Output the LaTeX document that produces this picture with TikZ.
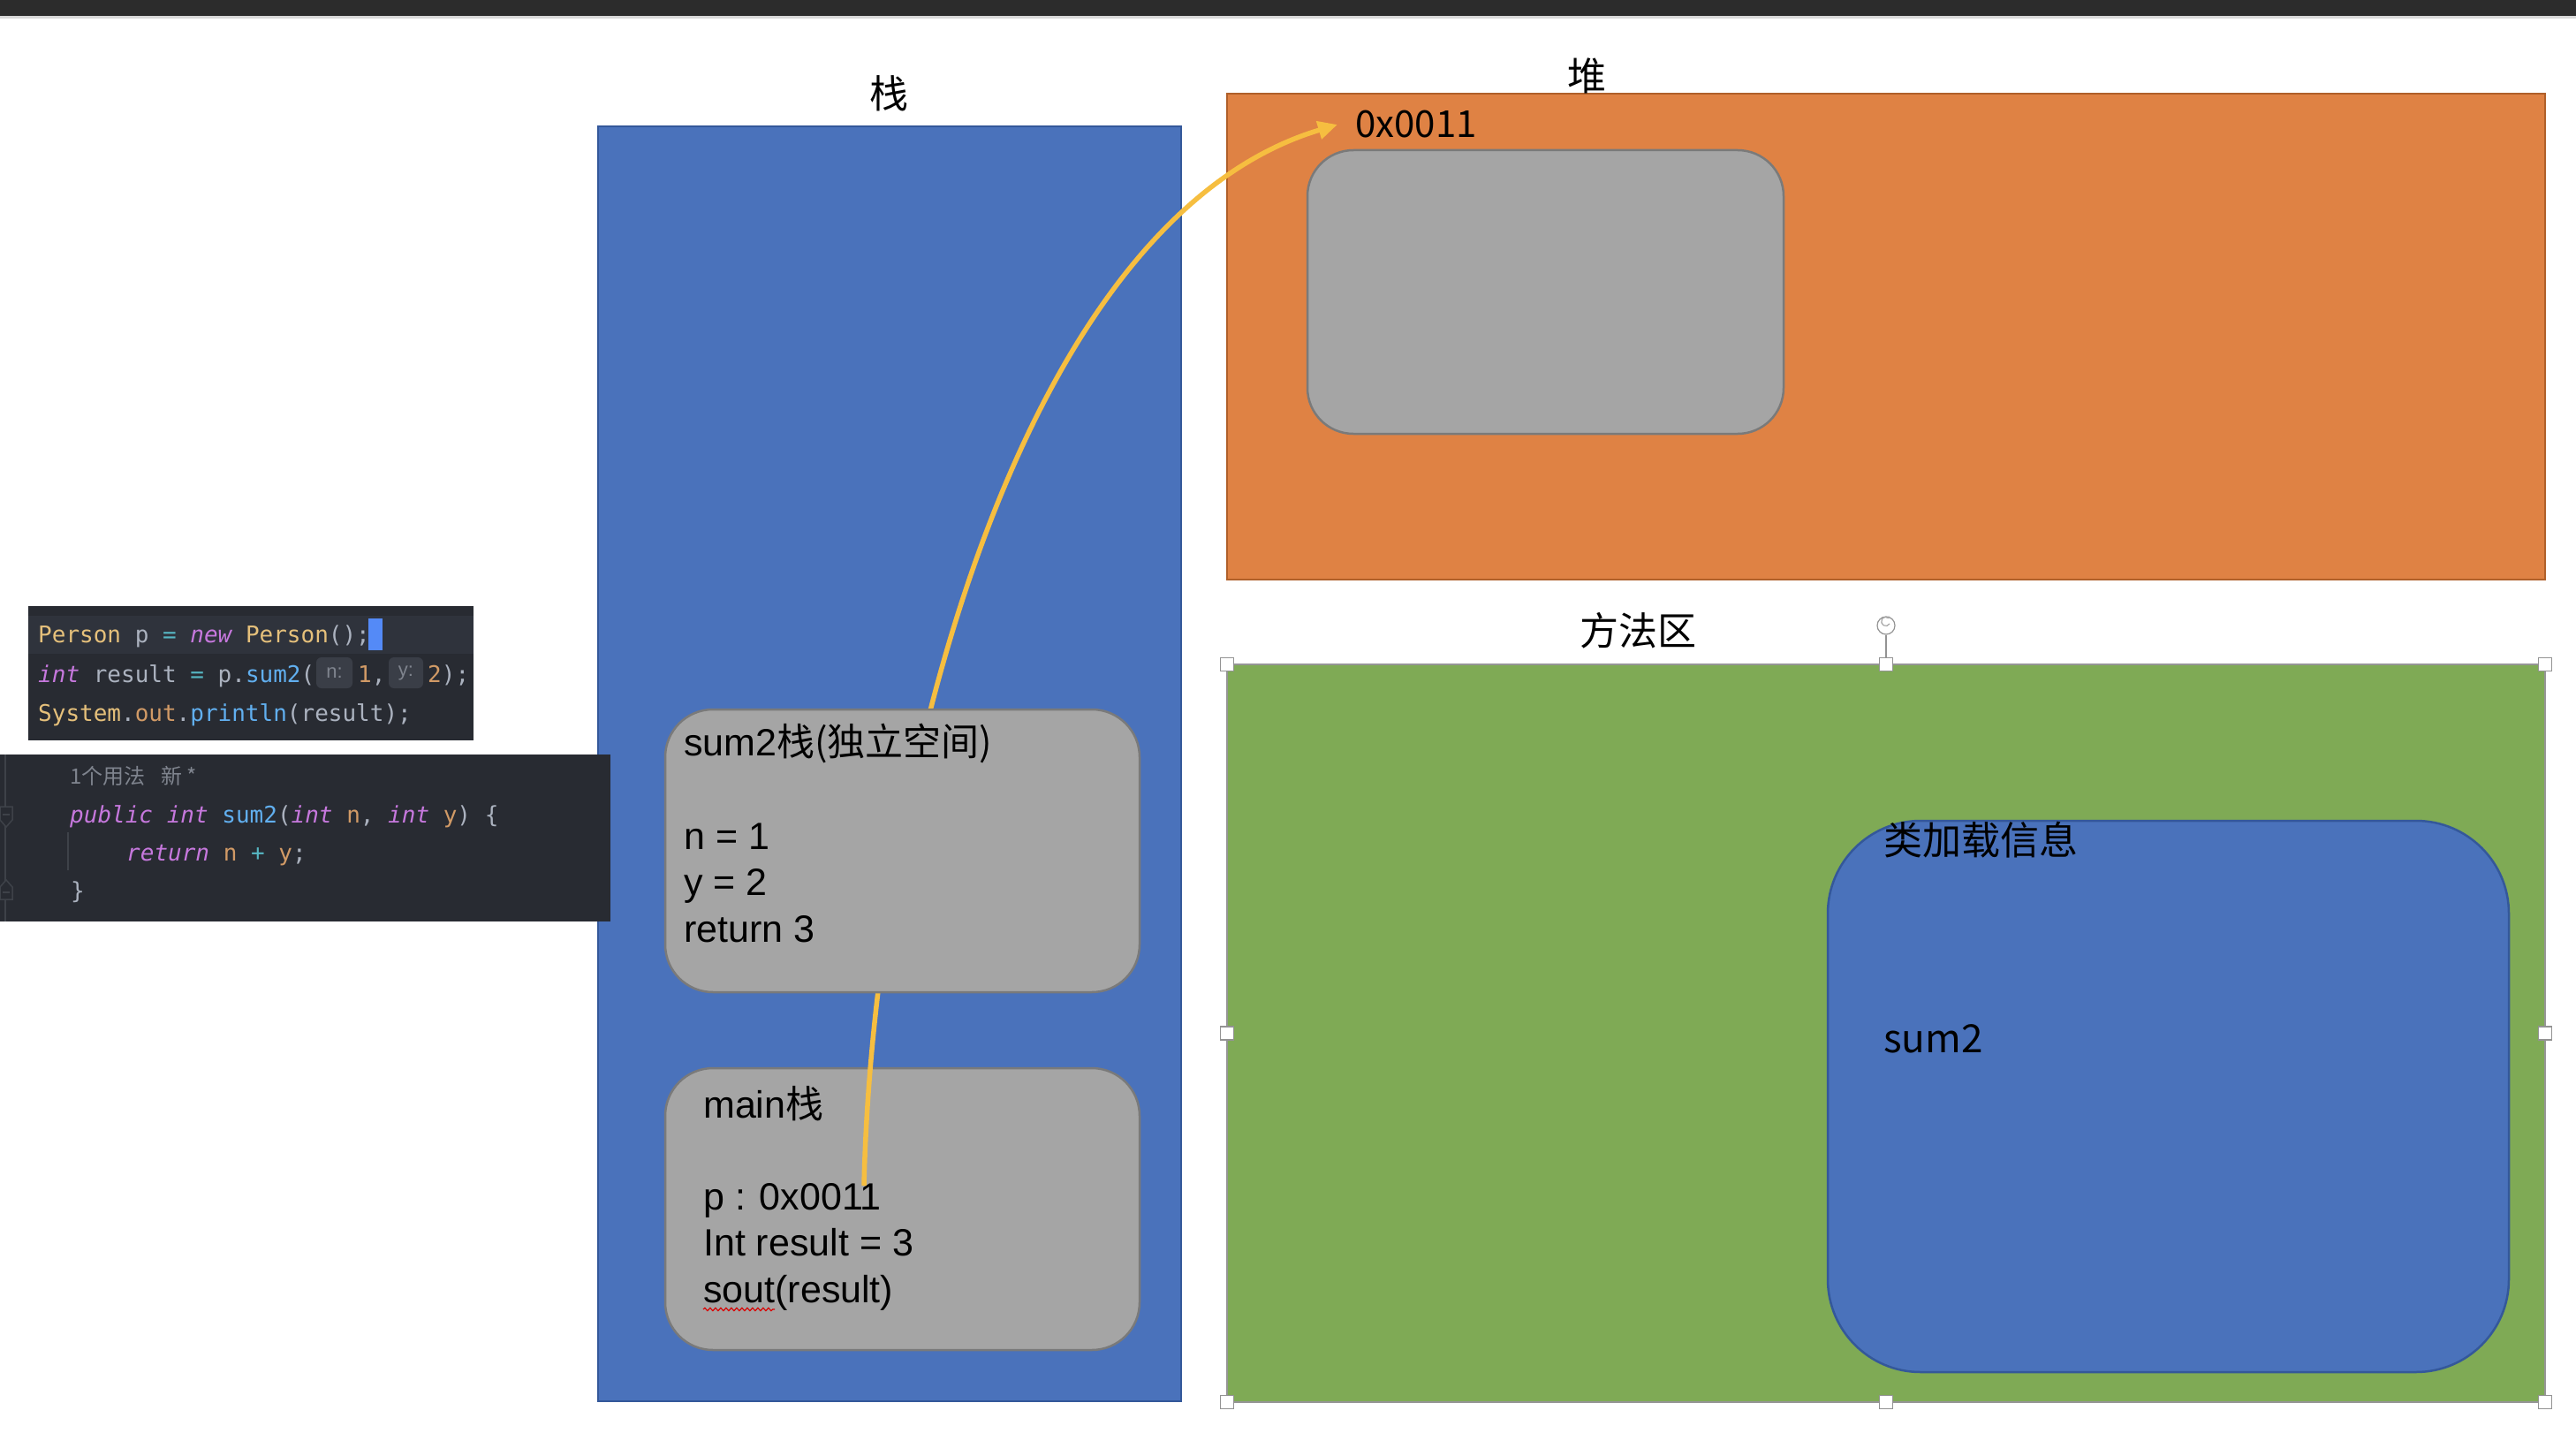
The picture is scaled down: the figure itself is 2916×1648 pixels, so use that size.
\documentclass[tikz,border=0pt]{standalone}
\usepackage{fontspec}
\setmainfont{Liberation Sans}
\setmonofont{DejaVu Sans Mono}
\newfontfamily\cjk{Noto Sans CJK SC}
\usetikzlibrary{arrows.meta,decorations.pathmorphing}

\definecolor{stackblue}{HTML}{4A72BB}
\definecolor{stackborder}{HTML}{34589A}
\definecolor{heaporange}{HTML}{DF8244}
\definecolor{heapborder}{HTML}{B0602A}
\definecolor{methodgreen}{HTML}{7FAA55}
\definecolor{greenborder}{HTML}{959595}
\definecolor{boxgray}{HTML}{A5A5A5}
\definecolor{boxborder}{HTML}{7A7A7A}
\definecolor{arrowyellow}{HTML}{F6BE40}
\definecolor{codebg}{HTML}{282B32}
\definecolor{codehl}{HTML}{2F333C}
\definecolor{gutterline}{HTML}{3E4249}
\definecolor{cKw}{HTML}{C678DD}
\definecolor{cType}{HTML}{E5C07B}
\definecolor{cFn}{HTML}{61AFEF}
\definecolor{cNum}{HTML}{D19A66}
\definecolor{cOp}{HTML}{56B6C2}
\definecolor{cTxt}{HTML}{ABB2BF}
\definecolor{cHint}{HTML}{7F848E}
\definecolor{hintbg}{HTML}{3A3E47}
\definecolor{cursorblue}{HTML}{548AF7}
\definecolor{topbar}{HTML}{2C2C2C}
\definecolor{topline}{HTML}{D8D8D8}

\tikzset{
  region/.style={line width=2pt},
  roundbox/.style={draw=boxborder, fill=boxgray, line width=2.5pt, rounded corners=54pt},
  lbl/.style={inner sep=0pt, font=\cjk\fontsize{44}{53}\selectfont},
  boxtext/.style={anchor=base west, inner sep=0pt, font=\fontsize{43}{52}\selectfont},
  cjktext/.style={anchor=base west, inner sep=0pt, font=\cjk\fontsize{44}{53}\selectfont},
  code/.style={anchor=base west, inner sep=0pt, font=\ttfamily\fontsize{26}{31}\selectfont, text=cTxt},
  hintbox/.style={fill=hintbg, rounded corners=6pt, inner sep=0pt, text=cHint,
    minimum width=41pt, minimum height=35pt, font=\fontsize{22}{26}\selectfont},
  handle/.style={draw=gray!85, fill=white, line width=1.2pt, minimum size=15pt, inner sep=0pt},
  arrowline/.style={draw=arrowyellow, line width=5.5pt, -{Triangle[length=22pt,width=20pt]}},
}

\begin{document}
\begin{tikzpicture}[x=1pt,y=-1pt]
\useasboundingbox (0,0) rectangle (2916,1648);
\fill[white] (0,0) rectangle (2916,1648);
% top bar
\fill[topbar] (0,0) rectangle (2916,18);
\fill[topline] (0,18) rectangle (2916,21);

% stack
\draw[region, draw=stackborder, fill=stackblue] (677,143) rectangle (1337,1586);
\node[lbl] (stacklbl) at (1006,106) {栈};

% heap
\draw[region, draw=heapborder, fill=heaporange] (1389,106) rectangle (2881,656);
\node[lbl] (heaplbl) at (1796,86) {堆};
\draw[roundbox, rounded corners=52pt] (1480,170) rectangle (2019,491);
\node[anchor=base west, inner sep=0pt, font=\cjk\fontsize{42}{50}\selectfont] (addr) at (1534,156) {0x0011};

% method area
\draw[region, draw=greenborder, fill=methodgreen, line width=1.5pt] (1389,752) rectangle (2881,1587);
\node[lbl] (methodlbl) at (1854,714) {方法区};
\draw[draw=stackborder, fill=stackblue, line width=2.5pt, rounded corners=105pt] (2069,929) rectangle (2840,1553);
\node[cjktext] (classinfo) at (2132,967) {类加载信息};
\node[cjktext] (sumtwo) at (2132,1191) {sum2};

% selection handles
\node[handle] (hnw) at (1389,752) {};
\node[handle] (hn) at (2135,752) {};
\node[handle] (hne) at (2881,752) {};
\node[handle] (hw) at (1389,1169.5) {};
\node[handle] (he) at (2881,1169.5) {};
\node[handle] (hsw) at (1389,1587) {};
\node[handle] (hs) at (2135,1587) {};
\node[handle] (hse) at (2881,1587) {};
\node[draw=gray!85, fill=white, circle, line width=1.2pt, minimum size=20pt, inner sep=0pt] (rot) at (2135,708) {};
\draw[gray!85, line width=1.2pt] (rot.south) -- (hn.north);
\draw[gray!70, line width=1.2pt, -{Stealth[length=3pt,width=4pt]}] ([shift={(4,-2)}]rot.center) arc[start angle=-30, end angle=-320, radius=5pt];

% main frame
\draw[roundbox] (753,1209) rectangle (1290,1528);
\node[boxtext] (mainttl) at (796,1265) {main{\cjk 栈}};
\node[boxtext] (mainp) at (796,1369) {p : 0x0011};
\node[boxtext] (mainres) at (796,1421) {Int result = 3};
\node[boxtext] (mainsout) at (796,1474) {sout(result)};
\draw[red!85!black, line width=1.2pt, decorate, decoration={snake, amplitude=1.6pt, segment length=6pt}] (796,1482) -- (877,1482);

% reference arrow
\coordinate (pstart) at (978,1342);
\draw[arrowline] (pstart) .. controls (988,900) and (1150,250) .. ([xshift=-20pt]addr.west);

% sum2 frame
\draw[roundbox] (753,803) rectangle (1290,1123);
\node[boxtext] (sumttl) at (774,855) {sum2{\cjk 栈(独立空间)}};
\node[boxtext] (sumn) at (774,961) {n = 1};
\node[boxtext] (sumy) at (774,1013) {y = 2};
\node[boxtext] (sumret) at (774,1066) {return 3};

% code snippet 1
\fill[codebg] (32,686) rectangle (536,838);
\fill[codehl] (32,697) rectangle (536,740);
\node[code] (cl1) at (43,727) {{\color{cType}Person} p {\color{cOp}=} {\color{cKw}\itshape new} {\color{cType}Person}();};
\fill[cursorblue] (417,700) rectangle (433,736);
\node[code] (cl2a) at (43,772) {{\color{cKw}\itshape int} result {\color{cOp}=} p.{\color{cFn}sum2}(};
\node[hintbox] (hintn) at (378.5,761.5) {n:};
\node[code] (cl2b) at (405,772) {{\color{cNum}1},};
\node[hintbox, minimum width=39pt] (hinty) at (459.5,761.5) {y:};
\node[code] (cl2c) at (484,772) {{\color{cNum}2});};
\node[code] (cl3) at (43,816) {{\color{cType}System}.{\color{cNum}out}.{\color{cFn}println}(result);};

% code snippet 2
\fill[codebg] (0,854) rectangle (691,1043);
\draw[gutterline, line width=1.5pt] (6,854) -- (6,1043);
\draw[gutterline, line width=1.5pt, fill=codebg] (0,913) -- (14,913) -- (14,928) -- (7,936) -- (0,928) -- cycle;
\draw[gutterline, line width=1.5pt] (3,922) -- (11,922);
\draw[gutterline, line width=1.5pt, fill=codebg] (7,996) -- (14,1004) -- (14,1018) -- (0,1018) -- (0,1004) -- cycle;
\draw[gutterline, line width=1.5pt] (3,1010) -- (11,1010);
\draw[gutterline, line width=1.5pt] (77,942) -- (77,985);
\node[anchor=base west, inner sep=0pt, text=cHint, font=\cjk\fontsize{24}{28}\selectfont] (usage) at (79,887) {1个用法\hspace{18pt}新 *};
\node[code] (cm1) at (79,931) {{\color{cKw}\itshape public} {\color{cKw}\itshape int} {\color{cFn}sum2}({\color{cKw}\itshape int} {\color{cNum}n}, {\color{cKw}\itshape int} {\color{cNum}y}) \{};
\node[code] (cm2) at (143,974) {{\color{cKw}\itshape return} {\color{cNum}n} {\color{cOp}+} {\color{cNum}y};};
\node[code] (cm3) at (80,1017) {\}};
\end{tikzpicture}
\end{document}
